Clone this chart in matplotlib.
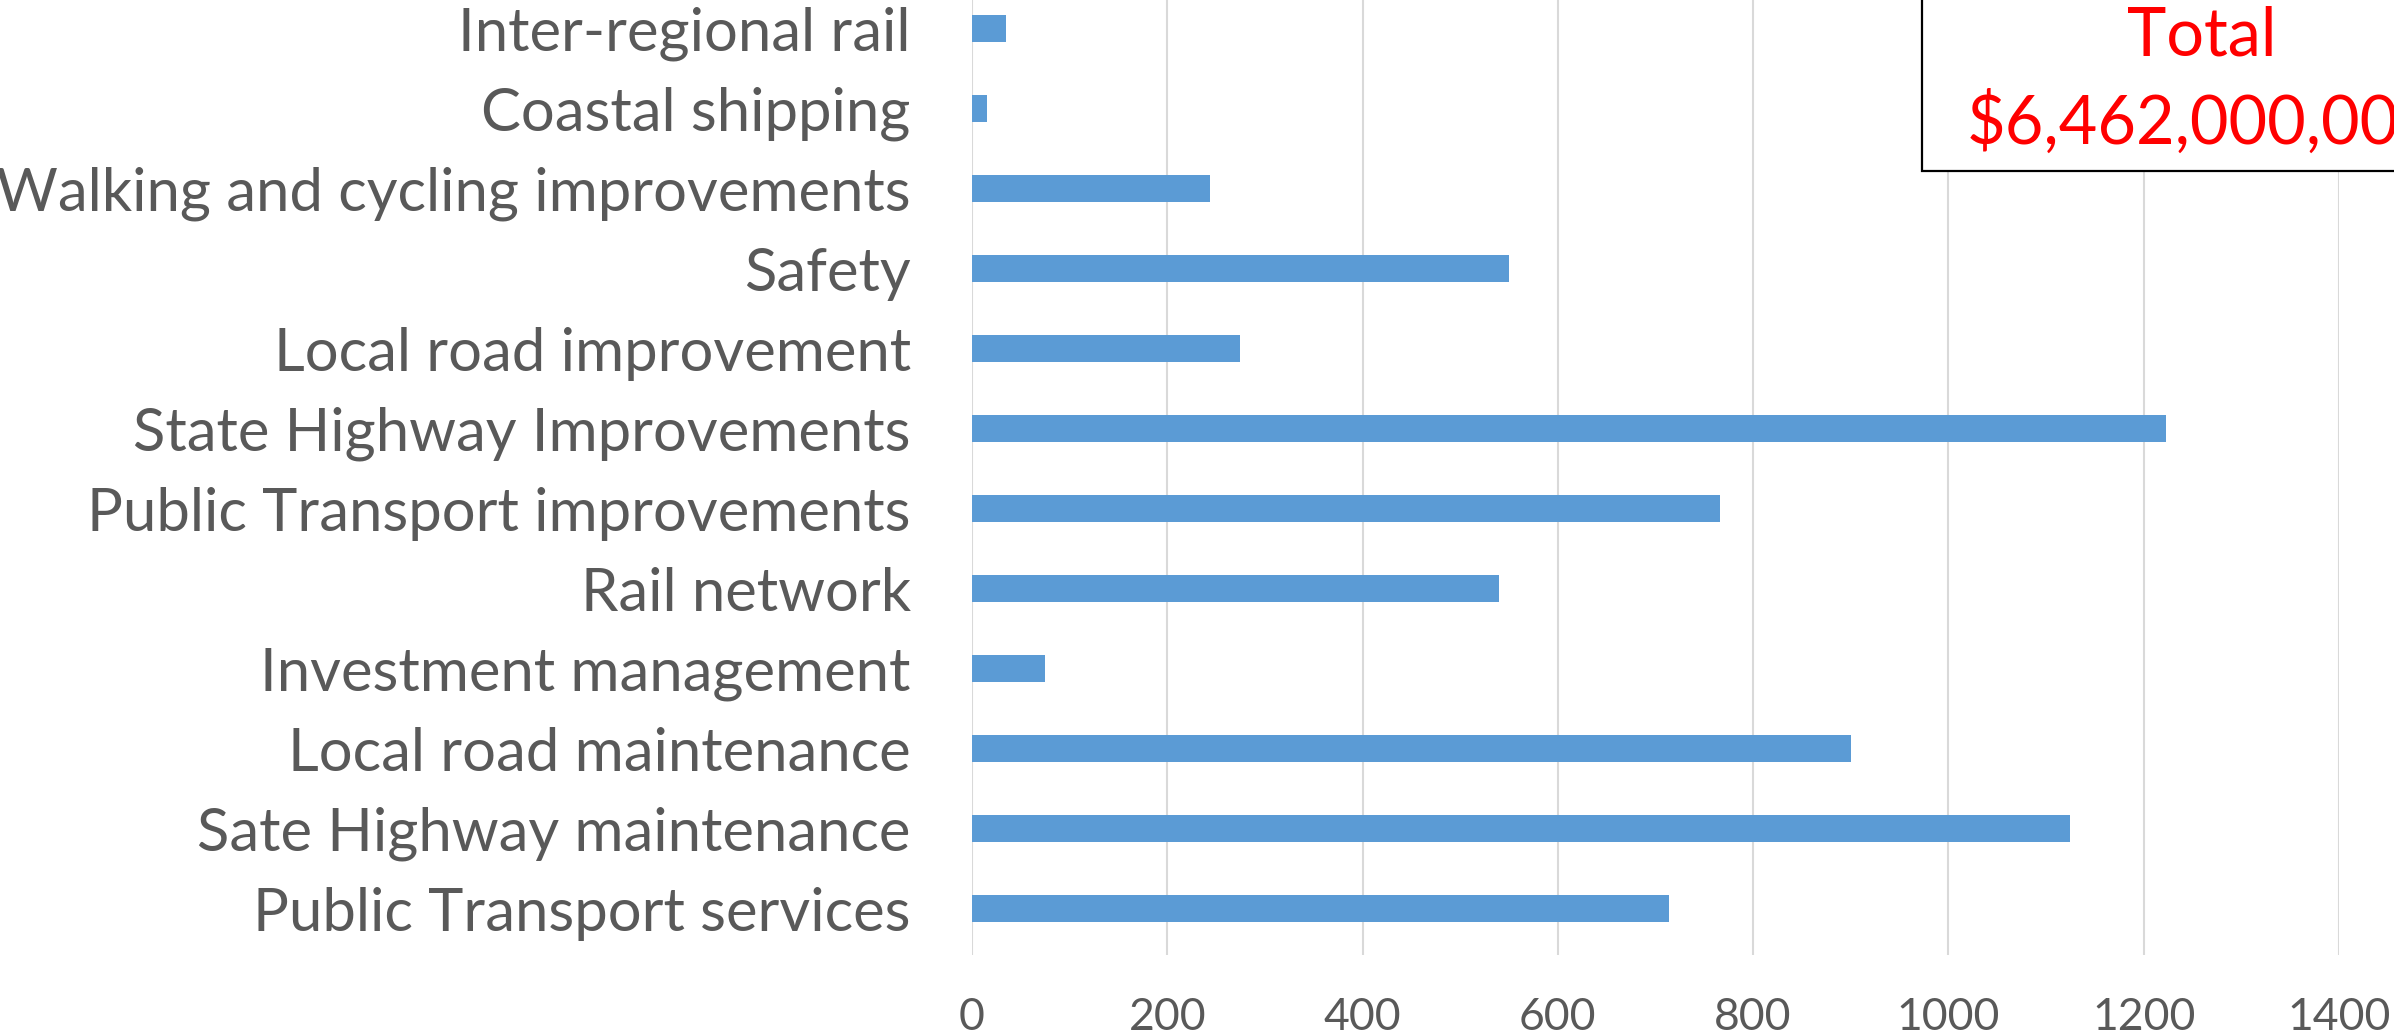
import matplotlib.pyplot as plt
from matplotlib.patches import Rectangle

plt.rcParams['font.family'] = ['Lato', 'DejaVu Sans']

# funding by activity class ($ million), bottom to top
categorias = ['Public Transport services', 'Sate Highway maintenance', 'Local road maintenance',
              'Investment management', 'Rail network', 'Public Transport improvements',
              'State Highway Improvements', 'Local road improvement', 'Safety',
              'Walking and cycling improvements', 'Coastal shipping', 'Inter-regional rail']
valores = [714, 1125, 900, 75, 540, 766, 1223, 275, 550, 244, 15, 35]
ticks_x = [0, 200, 400, 600, 800, 1000, 1200, 1400]
total = '$6,462,000,000'

fig = plt.figure(figsize=(23.94, 10.33), dpi=100)
ax = fig.add_axes([0.406, 0.0755, 0.571, 0.9245])

pos = list(range(len(categorias)))
ax.barh(pos, valores, height=0.34, color='#5B9BD5', zorder=3)

ax.set_xlim(0, 1400)
ax.set_ylim(-0.58, 11.36)
ax.set_xticks(ticks_x)
ax.set_xticklabels([str(t) for t in ticks_x])
ax.set_yticks(pos)
ax.set_yticklabels(categorias)
ax.grid(axis='x', color='#D9D9D9', linewidth=1.5, zorder=0)
for s in ax.spines.values():
    s.set_visible(False)
ax.tick_params(axis='y', length=0, pad=44, labelsize=43, labelcolor='#595959')
ax.tick_params(axis='x', length=0, pad=30, labelsize=32, labelcolor='#595959')

# cuadro con el total
fig.patches.append(Rectangle((0.8028, 0.8345), 0.3, 0.25, transform=fig.transFigure,
                             facecolor='white', edgecolor='black', linewidth=1.6, zorder=5))
fig.text(0.9198, 0.965, 'Total', color='red', fontsize=48, ha='center', va='center', zorder=6)
fig.text(0.9198, 0.881, total, color='red', fontsize=48, ha='center', va='center', zorder=6)

fig.savefig('out.png', dpi=100)
